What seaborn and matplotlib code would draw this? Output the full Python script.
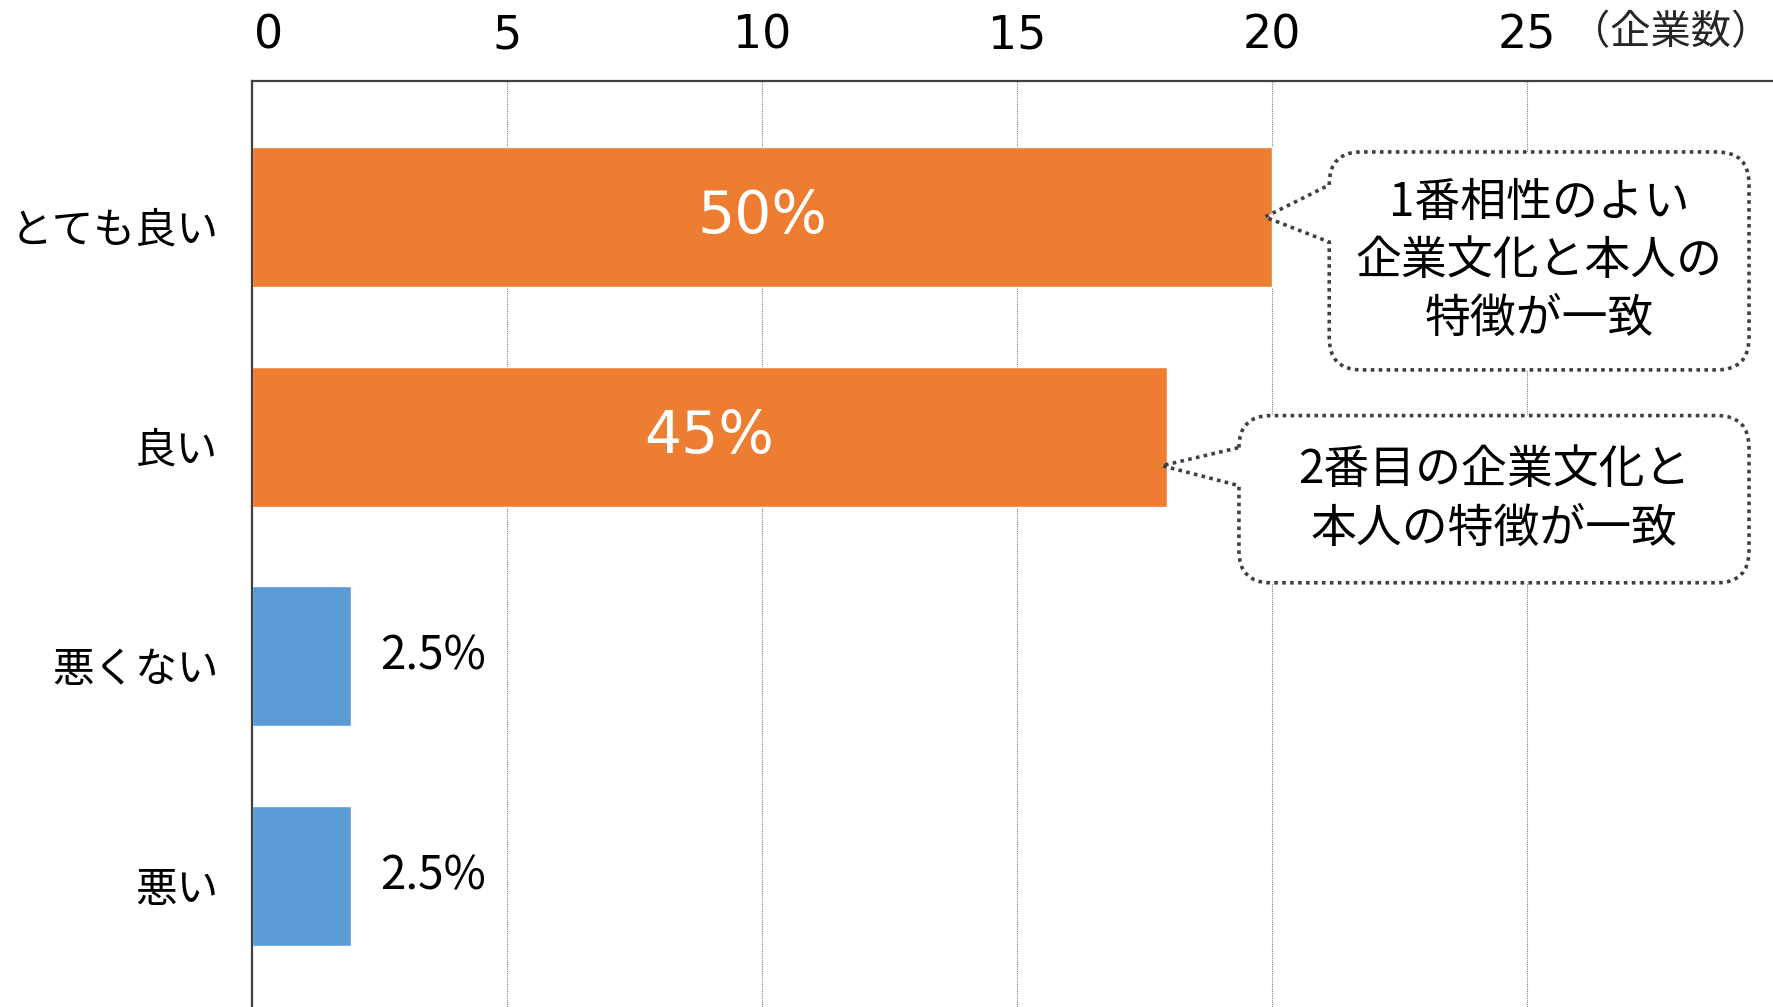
import matplotlib
matplotlib.use("Agg")
import matplotlib.pyplot as plt
import matplotlib.transforms as mtransforms
from matplotlib.path import Path
from matplotlib.patches import PathPatch
import pandas as pd
import seaborn as sns

# ---- data ----
categories = ["とても良い", "良い", "悪くない", "悪い"]
counts = [20, 17.94, 1.94, 1.94]
percent_labels = ["50%", "45%", "2.5%", "2.5%"]
bar_colors = ["#ED7D31", "#ED7D31", "#5B9BD5", "#5B9BD5"]
x_ticks = [0, 5, 10, 15, 20, 25]
unit_label = "（企業数）"
callout_texts = ["1番相性のよい\n企業文化と本人の\n特徴が一致",
                 "2番目の企業文化と\n本人の特徴が一致"]

sns.set_theme(style="white")
plt.rcParams["font.family"] = ["Noto Sans CJK JP", "DejaVu Sans"]

W, H = 1773, 1007
fig = plt.figure(figsize=(W / 100, H / 100), dpi=100)
fig.patch.set_facecolor("white")
ax = fig.add_axes([252 / W, 0, 1 - 252 / W, 1 - 81 / H])

df = pd.DataFrame({"cat": categories, "count": counts})
sns.barplot(data=df, x="count", y="cat", hue="cat", palette=bar_colors,
            dodge=False, legend=False, width=0.638, saturation=1,
            ax=ax, zorder=2)

ax.set_xlim(0, 29.82)
ax.set_ylim(3.596, -0.619)
ax.set_xlabel("")
ax.set_ylabel("")

# axes styling
ax.xaxis.tick_top()
ax.set_xticks(x_ticks)
ax.set_xticklabels([str(t) for t in x_ticks], fontsize=33,
                   family="DejaVu Sans")
ax.tick_params(axis="x", length=0, pad=16, colors="black")
ax.tick_params(axis="y", length=0, pad=24, labelsize=30, colors="black")
shift = mtransforms.ScaledTranslation(0, -7 / 72, fig.dpi_scale_trans)
for lab in ax.get_yticklabels():
    lab.set_transform(lab.get_transform() + shift)
x0shift = mtransforms.ScaledTranslation(12 / 72, 0, fig.dpi_scale_trans)
first = ax.get_xticklabels()[0]
first.set_transform(first.get_transform() + x0shift)

for s in ["bottom", "right"]:
    ax.spines[s].set_visible(False)
for s in ["top", "left"]:
    ax.spines[s].set_visible(True)
    ax.spines[s].set_color("#404040")
    ax.spines[s].set_linewidth(1.6)
ax.grid(axis="x", color="#808080", linestyle=(0, (1, 1)), linewidth=0.8)
ax.grid(axis="y", visible=False)
ax.set_axisbelow(True)

fig.text(0.999, 1 - 33 / H, unit_label, ha="right", va="center", fontsize=29)

# value labels
for i, (v, lab) in enumerate(zip(counts, percent_labels)):
    if v >= 5:
        ax.text(v / 2, i, lab, ha="center", va="center", color="white",
                fontsize=42, family="DejaVu Sans", zorder=4)
    else:
        ax.text(v + 0.57, i, lab, ha="left", va="center", color="black",
                fontsize=33, zorder=4)

# callouts (box geometry in data units)
callouts = [
    dict(box=(21.12, 29.35, -0.296, 0.696), joints=(-0.146, 0.114),
         tip=(counts[0] - 0.14, 0.0)),
    dict(box=(19.35, 29.35, 0.904, 1.665), joints=(1.027, 1.223),
         tip=(counts[1] - 0.1, 1.132)),
]

fig.canvas.draw()
r = 32.0
for c, txt in zip(callouts, callout_texts):
    l, rt, t, b = c["box"]
    jt, jb = c["joints"]
    (x0, y_top) = ax.transData.transform((l, t))
    (x1, y_bot) = ax.transData.transform((rt, b))
    _, yjt = ax.transData.transform((l, jt))
    _, yjb = ax.transData.transform((l, jb))
    tx, ty = ax.transData.transform(c["tip"])
    yjt = min(yjt, y_top - r)
    yjb = max(yjb, y_bot + r)
    verts = [
        (x0, yjt),
        (x0, y_top - r),
        (x0, y_top), (x0 + r, y_top),
        (x1 - r, y_top),
        (x1, y_top), (x1, y_top - r),
        (x1, y_bot + r),
        (x1, y_bot), (x1 - r, y_bot),
        (x0 + r, y_bot),
        (x0, y_bot), (x0, y_bot + r),
        (x0, yjb),
        (tx, ty),
        (x0, yjt),
    ]
    codes = [Path.MOVETO, Path.LINETO,
             Path.CURVE3, Path.CURVE3,
             Path.LINETO,
             Path.CURVE3, Path.CURVE3,
             Path.LINETO,
             Path.CURVE3, Path.CURVE3,
             Path.LINETO,
             Path.CURVE3, Path.CURVE3,
             Path.LINETO, Path.LINETO, Path.LINETO]
    patch = PathPatch(Path(verts, codes), transform=mtransforms.IdentityTransform(),
                      facecolor="white", edgecolor="#404040", linewidth=2.6,
                      linestyle=(0, (1, 1.2)), zorder=5, clip_on=False)
    ax.add_artist(patch)
    ax.text((l + rt) / 2, (t + b) / 2, txt, ha="center", va="center",
            multialignment="center", fontsize=33, linespacing=1.25,
            color="black", zorder=6)

fig.savefig("out.png", dpi=100, facecolor="white")
